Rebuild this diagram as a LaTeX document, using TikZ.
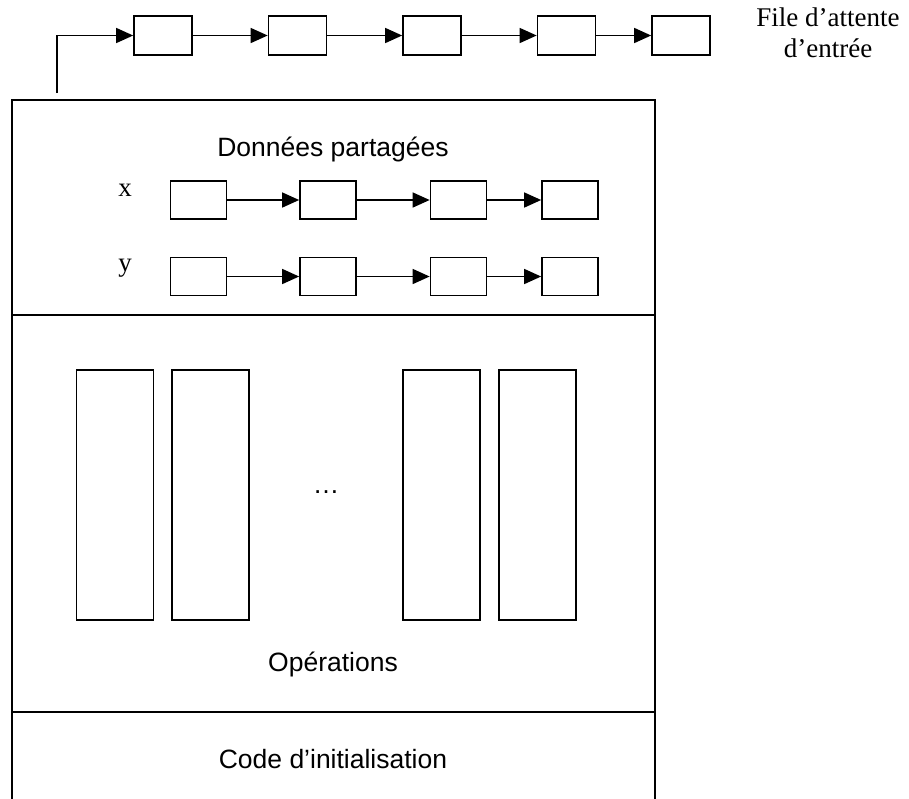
\documentclass[tikz,border=0pt]{standalone}
\usepackage{fontspec}
\setmainfont{Liberation Serif}
\newfontfamily\arialf{Liberation Sans}
\usetikzlibrary{arrows.meta}
\begin{document}
\begin{tikzpicture}[x=1pt,y=-1pt,
  qbox/.style={draw,line width=1.7pt,minimum width=58pt,minimum height=39pt,inner sep=0pt},
  dbox/.style={draw,line width=1.7pt,minimum width=56pt,minimum height=38pt,inner sep=0pt},
  obox/.style={draw,line width=1.7pt,minimum width=77pt,minimum height=250pt,inner sep=0pt},
  arr/.style={line width=1.5pt,-{Triangle[length=17pt,width=15pt]}},
  frame/.style={line width=2.8pt},
  sanslbl/.style={font=\arialf\fontsize{26.5}{30}\selectfont,inner sep=0pt},
  seriflbl/.style={font=\fontsize{27}{31}\selectfont,inner sep=0pt,align=center}]
\useasboundingbox (0,0) rectangle (909,798);
\clip (0,0) rectangle (909,798);
% outer frame
\draw[frame] (12,820) -- (12,100) -- (655,100) -- (655,820);
\draw[frame] (12,315) -- (655,315);
\draw[frame] (12,712) -- (655,712);
% input queue
\node[qbox] (q1) at (163,35.5) {};
\node[qbox] (q2) at (297.5,35.5) {};
\node[qbox] (q3) at (432,35.5) {};
\node[qbox] (q4) at (566.5,35.5) {};
\node[qbox] (q5) at (681,35.5) {};
\coordinate (qstart) at (57,93);
\draw[arr] (qstart) |- (q1.west);
\draw[arr] (q1) -- (q2);
\draw[arr] (q2) -- (q3);
\draw[arr] (q3) -- (q4);
\draw[arr] (q4) -- (q5);
\node[seriflbl] (qlbl) at (828,33) {File d’attente\\d’entrée};
% shared data
\node[sanslbl] (dp) at (333,149) {Données partagées};
\node[seriflbl] (xl) at (125,190) {x};
\node[seriflbl] (yl) at (125,268) {y};
\node[dbox] (x1) at (198.5,200) {};
\node[dbox] (x2) at (328,200) {};
\node[dbox] (x3) at (458.5,200) {};
\node[dbox] (x4) at (570,200) {};
\node[dbox] (y1) at (198.5,276.5) {};
\node[dbox] (y2) at (328,276.5) {};
\node[dbox] (y3) at (458.5,276.5) {};
\node[dbox] (y4) at (570,276.5) {};
\draw[arr] (x1) -- (x2);
\draw[arr] (x2) -- (x3);
\draw[arr] (x3) -- (x4);
\draw[arr] (y1) -- (y2);
\draw[arr] (y2) -- (y3);
\draw[arr] (y3) -- (y4);
% operations
\node[obox] (o1) at (115,495) {};
\node[obox] (o2) at (210.5,495) {};
\node[obox] (o3) at (441.5,495) {};
\node[obox] (o4) at (537.5,495) {};
\node[sanslbl] (dots) at (326,492) {\dots};
\node[sanslbl] (ops) at (333,664) {Opérations};
\node[sanslbl] (init) at (333,759) {Code d’initialisation};
\end{tikzpicture}
\end{document}
